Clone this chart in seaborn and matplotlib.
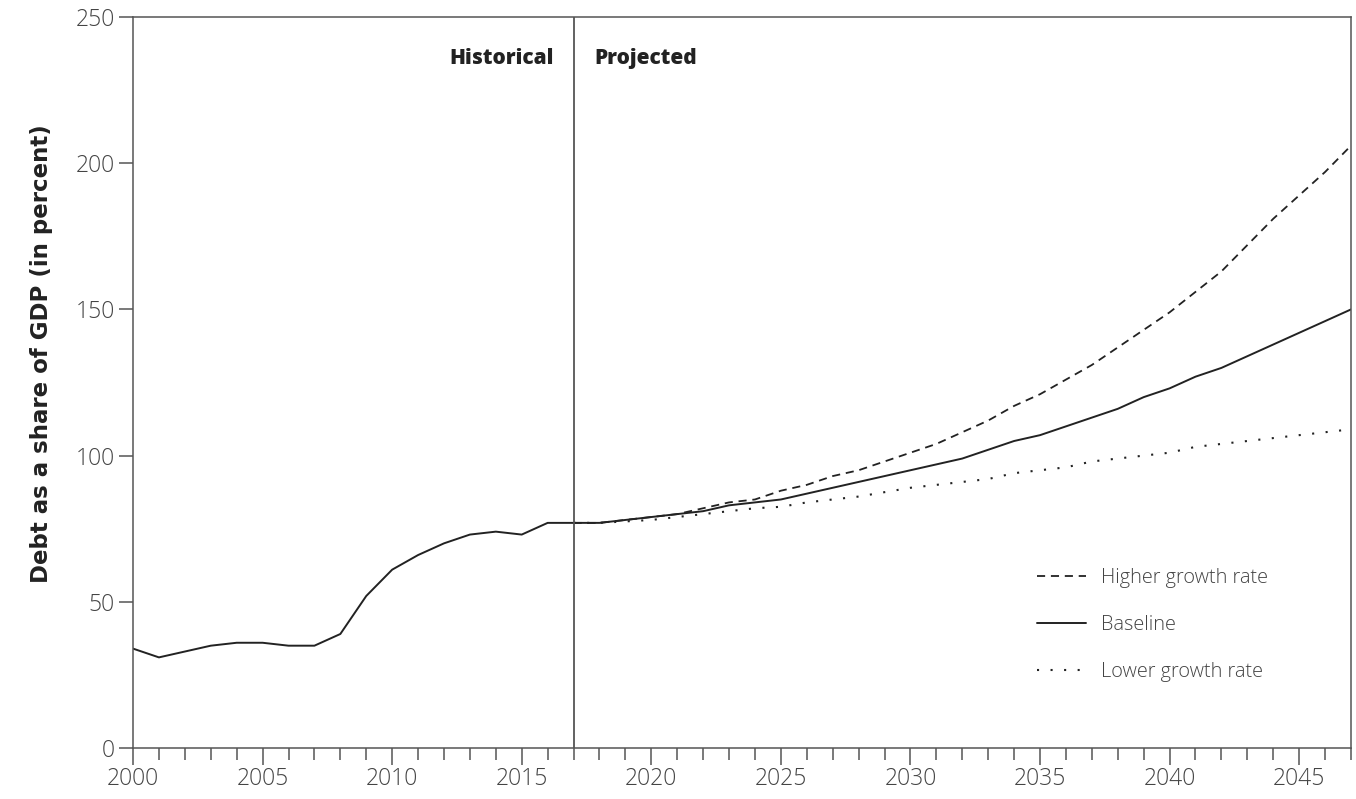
import matplotlib
matplotlib.use("Agg")
import matplotlib.pyplot as plt
from matplotlib.ticker import MultipleLocator
import seaborn as sns
import pandas as pd

# historical debt (share of GDP, %)
hist_years = list(range(2000, 2018))
hist_debt = [34, 31, 33, 35, 36, 36, 35, 35, 39, 52, 61, 66, 70, 73, 74, 73, 77, 77]

# projections
proj_years = list(range(2017, 2048))
baseline = [77, 77, 78, 79, 80, 81, 83, 84, 85, 87, 89, 91, 93, 95, 97, 99, 102,
            105, 107, 110, 113, 116, 120, 123, 127, 130, 134, 138, 142, 146, 150]
higher = [77, 77, 78, 79, 80, 82, 84, 85, 88, 90, 93, 95, 98, 101, 104, 108, 112,
          117, 121, 126, 131, 137, 143, 149, 156, 163, 172, 181, 189, 197, 206]
lower = [77, 77, 77.5, 78, 79, 80, 81, 82, 82.5, 84, 85, 86, 87.5, 89, 90, 91, 92,
         94, 95, 96, 98, 99, 100, 101, 103, 104, 105, 106, 107, 108, 109]

split_year = 2017

sns.set_theme(style="ticks")
plt.rcParams["font.family"] = ["Open Sans", "DejaVu Sans"]

INK = "#222222"
GREY = "#555555"

fig = plt.figure(figsize=(13.56, 7.99), dpi=100)
ax = fig.add_axes([0.0981, 0.0638, 0.8982, 0.9149])

hist_df = pd.DataFrame({"year": hist_years, "debt": hist_debt})
proj_df = pd.DataFrame({"year": proj_years, "base": baseline, "high": higher, "low": lower})

sns.lineplot(data=hist_df, x="year", y="debt", ax=ax, color=INK, lw=1.4)
sns.lineplot(data=proj_df, x="year", y="high", ax=ax, color=INK, lw=1.3,
             label="Higher growth rate", linestyle=(0, (4.5, 3.2)))
sns.lineplot(data=proj_df, x="year", y="base", ax=ax, color=INK, lw=1.4,
             label="Baseline")
sns.lineplot(data=proj_df, x="year", y="low", ax=ax, color=INK, lw=1.5,
             label="Lower growth rate", linestyle=(0, (1, 5.5)))

ax.axvline(split_year, color=GREY, lw=1.3)

ax.set_xlim(2000, 2047)
ax.set_ylim(0, 250)
ax.xaxis.set_major_locator(MultipleLocator(5))
ax.xaxis.set_minor_locator(MultipleLocator(1))
ax.yaxis.set_major_locator(MultipleLocator(50))

for s in ax.spines.values():
    s.set_color(GREY)
    s.set_linewidth(1.1)

ax.tick_params(axis="x", which="major", length=12, width=1.1, color=GREY,
               labelsize=16.5, labelcolor="#444444", pad=2)
ax.tick_params(axis="x", which="minor", length=8.5, width=1.1, color=GREY)
ax.tick_params(axis="y", length=10, width=1.1, color=GREY,
               labelsize=16.5, labelcolor="#444444", pad=3)
for lab in ax.get_xticklabels() + ax.get_yticklabels():
    lab.set_fontweight("light")

ax.set_xlabel("")
ax.set_ylabel("Debt as a share of GDP (in percent)", fontsize=16.5,
              fontweight="bold", color=INK, family="DejaVu Sans")
ax.yaxis.set_label_coords(-0.066, 0.539)

ax.annotate("Historical", xy=(split_year, 0.943), xycoords=("data", "axes fraction"),
            xytext=(-14, 0), textcoords="offset points", ha="right", va="center",
            fontsize=15, fontweight="heavy", color=INK)
ax.annotate("Projected", xy=(split_year, 0.943), xycoords=("data", "axes fraction"),
            xytext=(15, 0), textcoords="offset points", ha="left", va="center",
            fontsize=15, fontweight="heavy", color=INK)

leg = ax.legend(loc="center left", bbox_to_anchor=(0.742, 0.168), frameon=False,
                fontsize=14.3, handlelength=2.5, handletextpad=0.75,
                labelspacing=1.35, borderpad=0, borderaxespad=0)
for t in leg.get_texts():
    t.set_color("#444444")
    t.set_fontweight("light")

fig.savefig("out.png", dpi=100)
